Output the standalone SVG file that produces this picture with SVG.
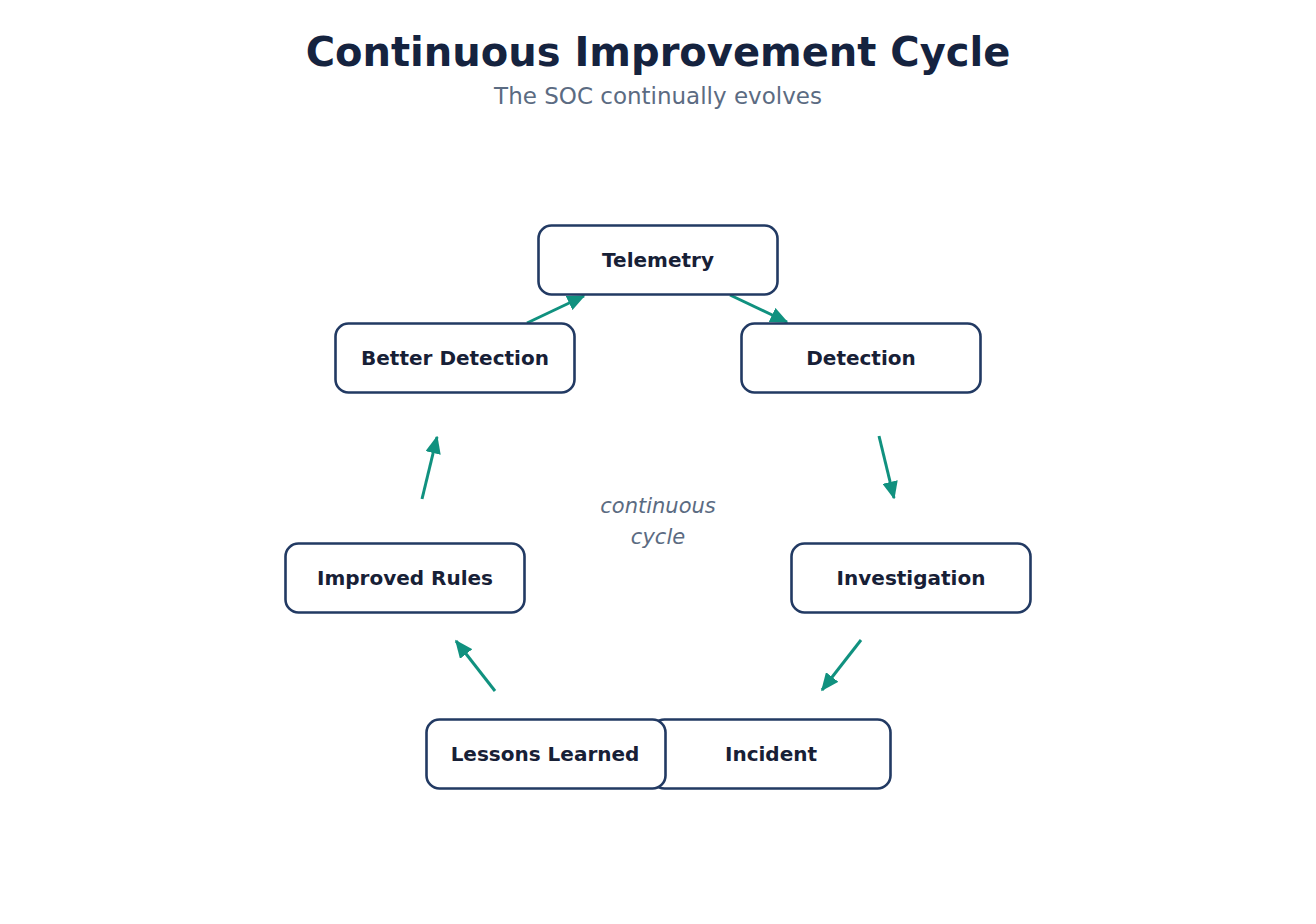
<svg xmlns="http://www.w3.org/2000/svg" width="1316" height="924" viewBox="0 0 1316 924">
<style>
.bg{fill:#ffffff}
.title{font-family:"DejaVu Sans",sans-serif;font-weight:bold;font-size:40px;fill:#15233f;text-anchor:middle}
.sub{font-family:"DejaVu Sans",sans-serif;font-size:23px;fill:#5b6b82;text-anchor:middle}
.center{font-family:"DejaVu Sans",sans-serif;font-style:italic;font-size:21px;fill:#5b6b82;text-anchor:middle}
.box{fill:#ffffff;stroke:#223a63;stroke-width:2.6}
.lbl{font-family:"DejaVu Sans",sans-serif;font-weight:bold;font-size:20px;fill:#172036;text-anchor:middle}
.edge{stroke:#10917f;stroke-width:3;fill:none;marker-end:url(#ah)}
</style>
<defs>
<marker id="ah" markerWidth="6" markerHeight="5.2" refX="5.5" refY="2.6" orient="auto" markerUnits="strokeWidth">
<path d="M0,0 L6,2.6 L0,5.2 Z" fill="#10917f"/>
</marker>
</defs>
<rect class="bg" x="0" y="0" width="1316" height="924"/>
<text class="title" x="658" y="66">Continuous Improvement Cycle</text>
<text class="sub" x="658" y="104">The SOC continually evolves</text>
<text class="center" x="658" y="513">continuous</text>
<text class="center" x="658" y="544">cycle</text>
<g id="connectors">
<line class="edge" x1="730" y1="295" x2="787" y2="322"/>
<line class="edge" x1="879" y1="436" x2="894" y2="498"/>
<line class="edge" x1="861" y1="640" x2="822" y2="690"/>
<line class="edge" x1="495" y1="691" x2="456" y2="641"/>
<line class="edge" x1="422" y1="499" x2="437" y2="437"/>
<line class="edge" x1="527" y1="323" x2="584" y2="296"/>
</g>
<g id="telemetry"><rect class="box" x="538.5" y="225.5" width="239" height="69" rx="13"/><text class="lbl" x="658" y="267">Telemetry</text></g>
<g id="detection"><rect class="box" x="741.5" y="323.5" width="239" height="69" rx="13"/><text class="lbl" x="861" y="365">Detection</text></g>
<g id="investigation"><rect class="box" x="791.5" y="543.5" width="239" height="69" rx="13"/><text class="lbl" x="911" y="585">Investigation</text></g>
<g id="incident"><rect class="box" x="651.5" y="719.5" width="239" height="69" rx="13"/><text class="lbl" x="771" y="761">Incident</text></g>
<g id="lessons-learned"><rect class="box" x="426.5" y="719.5" width="239" height="69" rx="13"/><text class="lbl" x="545" y="761">Lessons Learned</text></g>
<g id="improved-rules"><rect class="box" x="285.5" y="543.5" width="239" height="69" rx="13"/><text class="lbl" x="405" y="585">Improved Rules</text></g>
<g id="better-detection"><rect class="box" x="335.5" y="323.5" width="239" height="69" rx="13"/><text class="lbl" x="455" y="365">Better Detection</text></g>
</svg>
